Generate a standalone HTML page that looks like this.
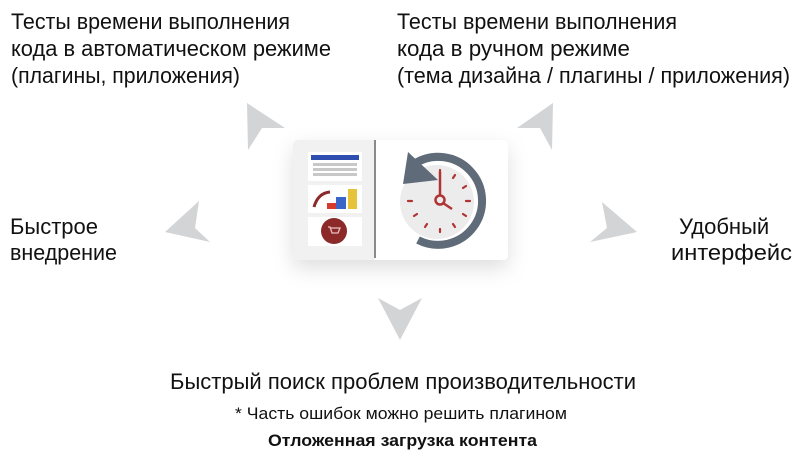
<!DOCTYPE html>
<html><head><meta charset="utf-8"><style>
html,body{margin:0;padding:0;background:#fff;}
svg{display:block;}
text{font-family:"Liberation Sans",Arial,sans-serif;fill:#111;}
</style></head><body>
<svg width="800" height="464" viewBox="0 0 800 464" xmlns="http://www.w3.org/2000/svg">
<defs>
<filter id="sh" x="-30%" y="-30%" width="160%" height="170%">
<feDropShadow dx="0" dy="8" stdDeviation="10" flood-color="#000" flood-opacity="0.13"/>
</filter>
</defs>
<g font-size="22">
<text x="11" y="29" textLength="279" lengthAdjust="spacingAndGlyphs">Тесты времени выполнения</text>
<text x="11" y="56" textLength="320" lengthAdjust="spacingAndGlyphs">кода в автоматическом режиме</text>
<text x="11" y="83" textLength="229" lengthAdjust="spacingAndGlyphs">(плагины, приложения)</text>
<text x="397" y="29" textLength="280" lengthAdjust="spacingAndGlyphs">Тесты времени выполнения</text>
<text x="397" y="56" textLength="233" lengthAdjust="spacingAndGlyphs">кода в ручном режиме</text>
<text x="397" y="83" textLength="393" lengthAdjust="spacingAndGlyphs">(тема дизайна / плагины / приложения)</text>
<text x="10" y="234" textLength="88" lengthAdjust="spacingAndGlyphs">Быстрое</text>
<text x="10" y="260" textLength="107" lengthAdjust="spacingAndGlyphs">внедрение</text>
<text x="679" y="234">Удобный</text>
<text x="671" y="260" textLength="121" lengthAdjust="spacingAndGlyphs">интерфейс</text>
<text x="170" y="389" textLength="466" lengthAdjust="spacingAndGlyphs">Быстрый поиск проблем производительности</text>
</g>
<text x="235" y="419" font-size="17" textLength="332" lengthAdjust="spacingAndGlyphs">* Часть ошибок можно решить плагином</text>
<text x="268" y="446" font-size="17" font-weight="bold" textLength="269" lengthAdjust="spacingAndGlyphs">Отложенная загрузка контента</text>

<g fill="#d3d4d6">
<polygon points="247,103 285,128 262,128 248,150"/>
<polygon points="553,103 552,150 540,128 517,128"/>
<polygon points="199,201 195,228 210,242 165,232"/>
<polygon points="602,202 637,232 590,242 607,228"/>
<polygon points="378,298 400,310 422,298 400,340"/>
</g>

<g filter="url(#sh)">
<rect x="293" y="140" width="215" height="120" rx="5" fill="#fff"/>
</g>
<path d="M298,140 H375 V260 H298 A5,5 0 0 1 293,255 V145 A5,5 0 0 1 298,140Z" fill="#f1f1f1"/>
<rect x="374" y="140" width="2" height="118" fill="#8a8a8a"/>
<rect x="308" y="152" width="54" height="29" fill="#fff"/>
<rect x="311" y="155" width="48" height="5" fill="#2e4fb0"/>
<g fill="#c8c8c8"><rect x="313" y="163" width="44" height="3"/><rect x="313" y="168" width="44" height="3"/><rect x="313" y="173" width="44" height="3"/></g>
<rect x="308" y="185" width="54" height="28" fill="#fff"/>
<path d="M314,207 Q318,193 330,192" stroke="#8c2a2a" stroke-width="3" fill="none"/>
<rect x="327" y="203" width="9" height="6" fill="#d53a2a"/>
<rect x="336" y="197" width="10" height="12" fill="#3a66c9"/>
<rect x="348" y="189" width="9" height="20" fill="#e6c33a"/>
<rect x="308" y="217" width="54" height="29" fill="#fff"/>
<circle cx="334" cy="231" r="13" fill="#8c2a2a"/>
<path d="M328,227 h2 l2,6 h6 l2,-5 h-9" stroke="#e8c0c0" stroke-width="1.3" fill="none"/>
<circle cx="437" cy="202" r="37" fill="#ececec"/>
<path d="M414,164 A44,44 0 1 1 418,240" stroke="#5f6b78" stroke-width="8" fill="none"/>
<polygon points="408,152 438,180 403,184" fill="#5f6b78"/>
<g stroke="#b03434" stroke-width="2.2" stroke-linecap="round">
<line x1="440" y1="170" x2="440" y2="173"/>
<line x1="455" y1="175" x2="453" y2="178"/>
<line x1="466" y1="186" x2="463" y2="188"/>
<line x1="470" y1="201" x2="466" y2="201"/>
<line x1="466" y1="216" x2="463" y2="214"/>
<line x1="455" y1="227" x2="453" y2="224"/>
<line x1="440" y1="232" x2="440" y2="229"/>
<line x1="425" y1="227" x2="427" y2="224"/>
<line x1="414" y1="216" x2="417" y2="214"/>
<line x1="408" y1="201" x2="412" y2="201"/>
</g>
<line x1="440" y1="172" x2="440" y2="195" stroke="#b03434" stroke-width="2.5"/>
<circle cx="440" cy="200" r="4.5" fill="none" stroke="#b03434" stroke-width="2.5"/>
<line x1="443" y1="203" x2="452" y2="209" stroke="#b03434" stroke-width="2.5"/>
</svg>
</body></html>
